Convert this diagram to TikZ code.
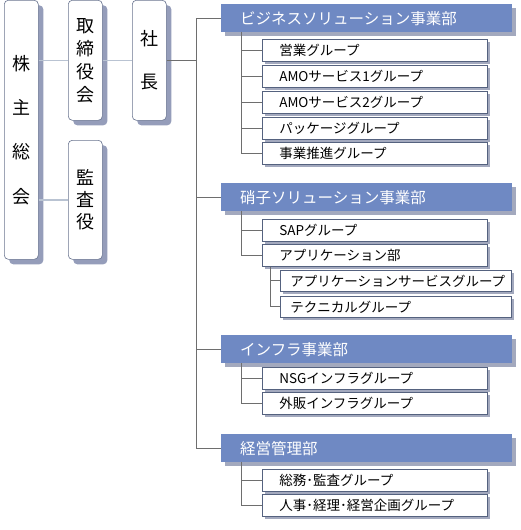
\documentclass[tikz,border=0pt]{standalone}
\usepackage{fontspec}
\setmainfont{Noto Sans CJK JP}
\usetikzlibrary{shadows}
\definecolor{barc}{HTML}{6F89C3}
\definecolor{grpb}{HTML}{55627F}
\definecolor{leftb}{HTML}{6A7590}
\definecolor{shadc}{HTML}{A3A9BE}
\definecolor{lshadc}{HTML}{959DBA}
\definecolor{lconn}{HTML}{B9C3D2}
\definecolor{conn}{HTML}{6E6E6E}
\tikzset{
  lbox/.style={draw=leftb, line width=0.6pt, fill=white, rounded corners=4pt, anchor=north west,
    minimum width=34pt, inner sep=0pt, align=center,
    drop shadow={shadow xshift=5pt, shadow yshift=-5pt, fill=lshadc, opacity=1}},
  bar/.style={fill=barc, anchor=north west, minimum height=28pt, text width=253pt, inner xsep=19pt, inner ysep=0pt,
    align=left, text=white, font=\fontsize{15.5}{18}\selectfont,
    drop shadow={shadow xshift=4pt, shadow yshift=-4pt, fill=shadc, opacity=1}},
  grp/.style={draw=grpb, line width=0.6pt, fill=white, anchor=north west, minimum height=22pt, text width=191pt,
    inner xsep=17pt, inner ysep=0pt, align=left, font=\fontsize{13.5}{16}\selectfont,
    drop shadow={shadow xshift=3pt, shadow yshift=-3pt, fill=shadc, opacity=1}},
  subgrp/.style={grp, text width=211pt, inner xsep=10pt, minimum height=21pt},
  lconnector/.style={draw=lconn, line width=1.6pt},
  connector/.style={draw=conn, line width=0.7pt},
}
\begin{document}
\begin{tikzpicture}[x=1pt,y=-1pt]
\useasboundingbox[fill=white] (0,0) rectangle (520,530);
% left column
\node[lbox, minimum height=259pt, font=\fontsize{18}{44.3}\selectfont] (kabu) at (4,0) {株\\主\\総\\会};
\node[lbox, minimum height=120pt, font=\fontsize{18}{23}\selectfont] (tori) at (68,0) {取\\締\\役\\会};
\node[lbox, minimum height=119pt, font=\fontsize{18}{22}\selectfont] (kansa) at (68,140) {監\\査\\役};
\node[lbox, minimum height=120pt, font=\fontsize{18}{43}\selectfont] (sha) at (132,0) {社\\長};
% divisions
\node[bar] (b1) at (221,4) {ビジネスソリューション事業部};
\node[bar] (b2) at (221,183) {硝子ソリューション事業部};
\node[bar] (b3) at (221,335) {インフラ事業部};
\node[bar] (b4) at (221,434) {経営管理部};
% groups
\node[grp] (g11) at (262,39) {営業グループ};
\node[grp] (g12) at (262,65) {AMOサービス1グループ};
\node[grp] (g13) at (262,91) {AMOサービス2グループ};
\node[grp] (g14) at (262,117) {パッケージグループ};
\node[grp] (g15) at (262,142) {事業推進グループ};
\node[grp] (g21) at (262,219) {SAPグループ};
\node[grp] (g22) at (262,244) {アプリケーション部};
\node[subgrp] (g221) at (280,270) {アプリケーションサービスグループ};
\node[subgrp] (g222) at (280,296) {テクニカルグループ};
\node[grp] (g31) at (262,367) {NSGインフラグループ};
\node[grp] (g32) at (262,392) {外販インフラグループ};
\node[grp] (g41) at (262,469) {総務･監査グループ};
\node[grp] (g42) at (262,494) {人事･経理･経営企画グループ};
% coordinates for trunks
\coordinate (tr) at (196,0);
\coordinate (sx) at (241,0);
\coordinate (sx2) at (270,0);
% left connectors
\draw[lconnector] (kabu.east |- tori.west) -- (tori.west);
\draw[lconnector] (tori.east) -- (sha.west);
\draw[lconnector] (kabu.east |- kansa.west) -- (kansa.west);
% main trunk
\draw[connector] (b1.west -| tr) -- (b4.west -| tr);
\draw[connector] (sha.east) -- (sha.east -| tr);
\foreach \b in {b1,b2,b3,b4} \draw[connector] (\b.west -| tr) -- (\b.west);
% sub trunks
\draw[connector] (b1.south -| sx) -- (g15.west -| sx);
\foreach \g in {g11,g12,g13,g14,g15} \draw[connector] (\g.west -| sx) -- (\g.west);
\draw[connector] (b2.south -| sx) -- (g22.west -| sx);
\foreach \g in {g21,g22} \draw[connector] (\g.west -| sx) -- (\g.west);
\draw[connector] (g22.south -| sx2) -- (g222.west -| sx2);
\foreach \g in {g221,g222} \draw[connector] (\g.west -| sx2) -- (\g.west);
\draw[connector] (b3.south -| sx) -- (g32.west -| sx);
\foreach \g in {g31,g32} \draw[connector] (\g.west -| sx) -- (\g.west);
\draw[connector] (b4.south -| sx) -- (g42.west -| sx);
\foreach \g in {g41,g42} \draw[connector] (\g.west -| sx) -- (\g.west);
\end{tikzpicture}
\end{document}
